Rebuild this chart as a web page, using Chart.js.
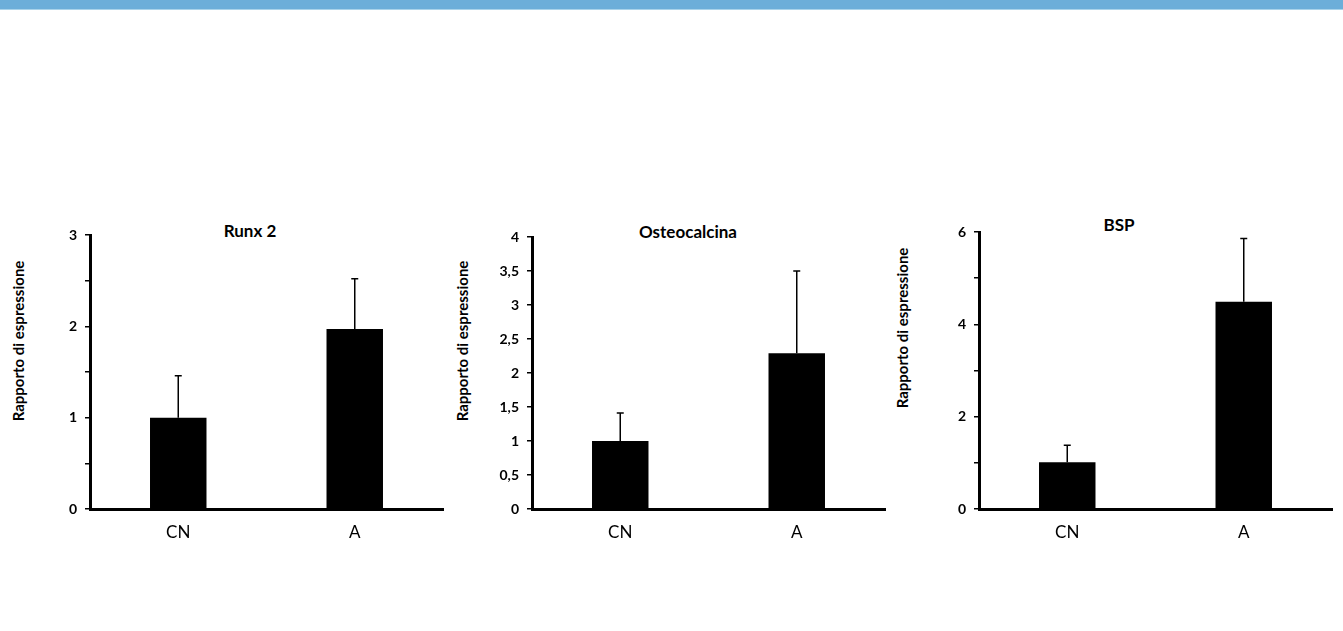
<!DOCTYPE html>
<html>
<head>
<meta charset="utf-8">
<script src="https://cdn.jsdelivr.net/npm/chart.js@4.4.1/dist/chart.umd.min.js"></script>
<style>
  body { margin: 0; background: #fff; width: 1343px; height: 631px; overflow: hidden; position: relative; font-family: Lato, "Open Sans", sans-serif; }
  .band { position: absolute; left: 0; top: 0; width: 1343px; height: 9px; background: #6caed9; border-bottom: 1px solid #a9d3ea; }
  canvas { position: absolute; }
  .judul { position: absolute; transform: translate(-50%, -50%); font-weight: bold; font-size: 17px; color: #000; white-space: nowrap; }
  .ytitle { position: absolute; transform: translate(-50%, -50%) rotate(-90deg); font-weight: bold; font-size: 15px; color: #000; white-space: nowrap; }
</style>
</head>
<body>
<div class="band"></div>

<div class="judul" style="left:250px; top:230px;">Runx 2</div>
<div class="judul" style="left:688px; top:231px;">Osteocalcina</div>
<div class="judul" style="left:1119px; top:224px;">BSP</div>

<div class="ytitle" style="left:18px; top:341px;">Rapporto di espressione</div>
<div class="ytitle" style="left:462px; top:341px;">Rapporto di espressione</div>
<div class="ytitle" style="left:902px; top:328px;">Rapporto di espressione</div>

<canvas id="Runx2" width="460" height="335" style="left:0px; top:215px;"></canvas>
<canvas id="Osteocalcina" width="455" height="333" style="left:445px; top:217px;"></canvas>
<canvas id="BSP" width="450" height="338" style="left:893px; top:212px;"></canvas>

<script>
// data
const kategori = ['CN', 'A'];

const runxNilai = [1.0, 1.97];
const runxErr = [0.46, 0.55];
const runxTicks = [0, 1, 2, 3];

const osteoNilai = [1.0, 2.29];
const osteoErr = [0.41, 1.21];
const osteoTicks = [0, 0.5, 1, 1.5, 2, 2.5, 3, 3.5, 4];

const bspNilai = [1.01, 4.49];
const bspErr = [0.37, 1.37];
const bspTicks = [0, 2, 4, 6];

// error bar (hanya ke atas)
const errorBars = {
    id: 'errorBars',
    afterDatasetsDraw(chart) {
        const ctx = chart.ctx;
        const ds = chart.data.datasets[0];
        const meta = chart.getDatasetMeta(0);
        const y = chart.scales.y;
        ctx.save();
        ctx.strokeStyle = '#000';
        ctx.lineWidth = 1.5;
        meta.data.forEach(function (bar, i) {
            const top = y.getPixelForValue(ds.data[i] + ds.errors[i]);
            ctx.beginPath();
            ctx.moveTo(bar.x, bar.y);
            ctx.lineTo(bar.x, top);
            ctx.moveTo(bar.x - 3.5, top);
            ctx.lineTo(bar.x + 3.5, top);
            ctx.stroke();
        });
        ctx.restore();
    }
};

function buatGrafik(id, nilai, err, yMax, yStep, labelTicks, lebarY, padKanan) {
    const ctx = document.getElementById(id);
    return new Chart(ctx, {
        type: 'bar',
        data: {
            labels: kategori,
            datasets: [{
                data: nilai,
                errors: err,
                backgroundColor: '#000',
                borderWidth: 0,
                barPercentage: 0.32,
                categoryPercentage: 1
            }]
        },
        options: {
            responsive: false,
            animation: false,
            layout: { padding: { top: 20, right: padKanan, bottom: 1, left: 0 } },
            plugins: { legend: { display: false }, tooltip: { enabled: false } },
            scales: {
                x: {
                    grid: { display: false, drawTicks: false },
                    border: { display: true, color: '#000', width: 3 },
                    ticks: { color: '#000', padding: 13, font: { family: 'Lato', size: 17 } },
                    afterFit: function (s) { s.height = 40; }
                },
                y: {
                    min: 0,
                    max: yMax,
                    grid: { drawOnChartArea: false, drawTicks: true, tickLength: 5, tickColor: '#000', lineWidth: 1.5 },
                    border: { display: true, color: '#000', width: 3 },
                    ticks: {
                        stepSize: yStep,
                        color: '#000',
                        padding: 8,
                        font: { family: 'Lato', size: 14, weight: 'bold' },
                        callback: function (v) {
                            return labelTicks.includes(v) ? String(v).replace('.', ',') : '';
                        }
                    },
                    afterFit: function (s) { s.width = lebarY; }
                }
            }
        },
        plugins: [errorBars]
    });
}

buatGrafik('Runx2', runxNilai, runxErr, 3, 0.5, runxTicks, 90, 17);
buatGrafik('Osteocalcina', osteoNilai, osteoErr, 4, 0.5, osteoTicks, 87, 15);
buatGrafik('BSP', bspNilai, bspErr, 6, 1, bspTicks, 86, 11);
</script>
</body>
</html>
